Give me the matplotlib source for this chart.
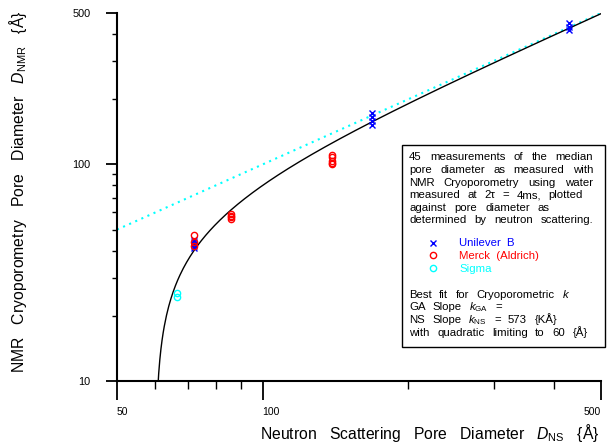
import numpy as np
import matplotlib
matplotlib.use("Agg")
import matplotlib.pyplot as plt
from matplotlib.patches import Rectangle
from matplotlib.ticker import FixedLocator, NullFormatter

plt.rcParams["font.family"] = ["Liberation Sans", "DejaVu Sans"]
plt.rcParams["mathtext.fontset"] = "custom"
plt.rcParams["mathtext.rm"] = "Liberation Sans"
plt.rcParams["mathtext.it"] = "Liberation Sans:italic"

# pore diameters, {Å}
unilever_ns = [72, 72, 72, 72, 72, 168, 168, 168, 168, 429, 429, 429]
unilever_nmr = [41, 42, 43, 44, 45, 152, 158, 165, 172, 418, 432, 448]
merck_ns = [72, 72, 72, 86, 86, 86, 86, 139, 139, 139, 139, 139]
merck_nmr = [42, 44, 47, 56, 57, 58, 59, 100, 102, 104, 108, 111]
sigma_ns = [66.5, 66.5]
sigma_nmr = [24.5, 25.5]

# D_NMR = D_NS reference line
ref_ns = [50, 500]
ref_nmr = [50, 500]

# fit: quadratic limiting to 60 Å
limit = 60.0
fit_ns = np.geomspace(limit * 1.0001, 500, 400)
fit_nmr = np.sqrt(fit_ns**2 - limit**2)

x_major = [50, 100, 500]
x_minor = [60, 70, 80, 90, 200, 300, 400]
y_major = [10, 100, 500]
y_minor = [20, 30, 40, 50, 60, 70, 80, 90, 200, 300, 400]

info_lines = [
    "45 measurements of the median",
    "pore diameter as measured with",
    "NMR Cryoporometry using water",
    "measured at 2\u03c4 = 4ms, plotted",
    "against pore diameter as",
    "determined by neutron scattering.",
]
info_ends = [593, 593, 593, 583, 550, 593]
fit_lines = [
    r"Best fit for Cryoporometric $k$",
    r"GA Slope $k_{\mathrm{GA}}$ =",
    r"NS Slope $k_{\mathrm{NS}}$ = 573 {KÅ}",
    "with quadratic limiting to 60 {Å}",
]
fit_ends = [570, 502, 557, 588]

W, H = 608, 445
BOX_FS = 8.2
fig = plt.figure(figsize=(W / 100, H / 100), dpi=100)
ax = fig.add_axes([117 / W, 1 - 381 / H, 484 / W, 368 / H])
renderer = fig.canvas.get_renderer()


def spread_line(text, x0, x1, y, size):
    # lay the words out so the line runs from x0 to x1 (pixels), y is baseline
    words = text.split(" ")
    items = [ax.text(0, 0, w, fontsize=size, transform=fig.transFigure,
                     va="baseline", ha="left", zorder=6) for w in words]
    widths = [t.get_window_extent(renderer).width for t in items]
    gap = (x1 - x0 - sum(widths)) / max(len(words) - 1, 1)
    x = x0
    for t, w in zip(items, widths):
        t.set_position((x / W, 1 - y / H))
        x += w + gap


ax.plot(ref_ns, ref_nmr, linestyle=(0, (1, 2.2)), color="cyan", lw=1.5)
ax.plot(fit_ns, fit_nmr, color="black", lw=1.0)
ax.plot(unilever_ns, unilever_nmr, "x", color="blue", ms=4, mew=1.0,
        label="Unilever  B")
ax.plot(merck_ns, merck_nmr, "o", mfc="none", mec="red", ms=4.5, mew=1.0,
        label="Merck  (Aldrich)")
ax.plot(sigma_ns, sigma_nmr, "o", mfc="none", mec="cyan", ms=4.5, mew=1.0,
        label="Sigma")

ax.set_xscale("log")
ax.set_yscale("log")
ax.set_xlim(50, 500)
ax.set_ylim(10, 500)

ax.xaxis.set_major_locator(FixedLocator(x_major))
ax.xaxis.set_minor_locator(FixedLocator(x_minor))
ax.yaxis.set_major_locator(FixedLocator(y_major))
ax.yaxis.set_minor_locator(FixedLocator(y_minor))
ax.set_xticklabels([str(v) for v in x_major])
ax.set_yticklabels([str(v) for v in y_major])
ax.xaxis.set_minor_formatter(NullFormatter())
ax.yaxis.set_minor_formatter(NullFormatter())

for side in ("top", "right"):
    ax.spines[side].set_visible(False)
for side in ("left", "bottom"):
    ax.spines[side].set_linewidth(1.5)

ax.tick_params(axis="x", which="major", length=14, width=1.3, pad=5, labelsize=7.5)
ax.tick_params(axis="x", which="minor", length=6, width=1.0)
ax.tick_params(axis="y", which="major", length=8, width=1.3, pad=11, labelsize=7.8)
ax.tick_params(axis="y", which="minor", length=3.6, width=1.0)
xlabels = ax.get_xticklabels()
xlabels[0].set_ha("left")
xlabels[1].set_ha("left")
xlabels[2].set_ha("right")

ax.set_xlabel(r"Neutron   Scattering   Pore   Diameter   $D_{\mathrm{NS}}$   {Å}",
              fontsize=11.3, ha="right", va="center")
ax.xaxis.set_label_coords(0.998, -0.141)
ax.set_ylabel(r"NMR   Cryoporometry   Pore   Diameter   $D_{\mathrm{NMR}}$   {Å}",
              fontsize=11.3, va="center")
ax.yaxis.set_label_coords(-0.205, 0.515)

# information box
ax.add_patch(Rectangle((401.7 / W, 1 - 347 / H), 203.3 / W, 202 / H,
                       transform=fig.transFigure, facecolor="white",
                       edgecolor="black", lw=1.0, zorder=5, clip_on=False))
for i, line in enumerate(info_lines):
    spread_line(line, 409, info_ends[i], 160.3 + 12.6 * i, BOX_FS)
for i, line in enumerate(fit_lines):
    spread_line(line, 409, fit_ends[i], 298 + 12.5 * i, BOX_FS)

leg = ax.legend(loc="upper left", bbox_to_anchor=(428 / W, 1 - 238.5 / H),
                bbox_transform=fig.transFigure, frameon=False, fontsize=BOX_FS,
                numpoints=1, handlelength=0.8, handletextpad=1.95,
                labelspacing=0.22, borderpad=0, borderaxespad=0,
                labelcolor=["blue", "red", "cyan"])
leg.set_zorder(7)

fig.savefig("out.png", dpi=100)
